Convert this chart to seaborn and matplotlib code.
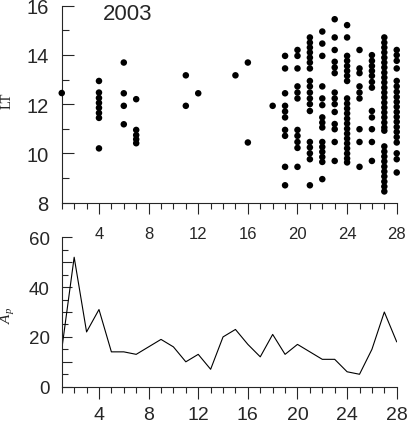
import matplotlib.pyplot as plt
import pandas as pd
import seaborn as sns
from matplotlib.ticker import FuncFormatter, MultipleLocator

# daily Ap index (days 1..28)
days = list(range(1, 29))
ap_index = [15, 52, 22, 31, 14, 14, 13, 16, 19, 16, 10, 13, 7, 20,
            23, 17, 12, 21, 13, 17, 14, 11, 11, 6, 5, 15, 30, 18]

# local time (LT, hours) of the observed events, per day
lt_day1 = [12.45]
lt_day4 = [12.94, 12.47, 12.25, 12.05, 11.85, 11.64, 11.44, 10.2]
lt_day6 = [13.69, 12.44, 11.93, 11.18]
lt_day7 = [12.2, 10.95, 10.74, 10.57, 10.41]
lt_day11 = [13.17, 11.93]
lt_day12 = [12.44]
lt_day15 = [13.17]
lt_day16 = [13.69, 10.44]
lt_day18 = [11.93]
lt_day19 = [13.96, 13.45, 12.44, 11.93, 11.70, 11.46, 10.95, 10.71, 9.45, 8.70]
lt_day20 = [14.2, 13.96, 13.45, 12.72, 12.47, 12.23, 10.95, 10.71, 10.46,
            10.22, 9.45]
lt_day21 = [14.71, 14.50, 14.30, 14.10, 13.89, 13.69, 13.45, 12.94, 12.72,
            12.47, 12.23, 12.0, 11.72, 10.46, 10.24, 10.0, 9.76, 8.70]
lt_day22 = [14.95, 14.46, 13.96, 12.72, 12.23, 11.96, 11.46, 11.25, 11.05,
            10.46, 10.26, 10.06, 9.85, 9.65, 8.95]
lt_day23 = [15.45, 14.71, 14.2, 13.72, 13.49, 13.26, 12.47, 12.23, 12.0,
            11.68, 11.19, 10.98, 10.46, 9.69]
lt_day24 = [15.21, 14.71, 13.96, 13.76, 13.55, 13.35, 13.15, 12.94, 12.23,
            12.02, 11.82, 11.62, 11.41, 11.21, 11.0, 10.80, 10.60, 10.40,
            10.20, 9.99, 9.79, 9.63]
lt_day25 = [14.2, 13.45, 13.26, 12.72, 12.47, 12.23, 10.98, 10.46, 9.45]
lt_day26 = [13.99, 13.76, 13.55, 13.35, 13.15, 12.90, 12.67, 11.72, 11.46,
            10.98, 10.46, 9.69]
lt_day27 = [14.71, 14.50, 14.30, 14.10, 13.89, 13.69, 13.49, 13.28, 13.08,
            12.88, 12.67, 12.47, 12.27, 12.06, 11.86, 11.66, 11.46, 11.25,
            11.05, 10.92, 10.28, 10.07, 9.87, 9.67, 9.46, 9.26, 9.06, 8.85,
            8.65, 8.45]
lt_day28 = [14.2, 13.99, 13.76, 13.45, 12.94, 12.72, 12.50, 12.29, 12.09,
            11.89, 11.68, 11.48, 11.28, 11.07, 10.87, 10.66, 10.44, 10.0,
            9.76, 9.22]

lt_by_day = {1: lt_day1, 4: lt_day4, 6: lt_day6, 7: lt_day7, 11: lt_day11,
             12: lt_day12, 15: lt_day15, 16: lt_day16, 18: lt_day18,
             19: lt_day19, 20: lt_day20, 21: lt_day21, 22: lt_day22,
             23: lt_day23, 24: lt_day24, 25: lt_day25, 26: lt_day26,
             27: lt_day27, 28: lt_day28}

events = pd.DataFrame(
    [(d, lt) for d, vals in lt_by_day.items() for lt in vals],
    columns=["day", "lt"],
)
ap = pd.DataFrame({"day": days, "ap": ap_index})

sns.set_style("ticks")
plt.rcParams["font.family"] = ["Liberation Sans", "DejaVu Sans"]
plt.rcParams["mathtext.fontset"] = "custom"
plt.rcParams["mathtext.it"] = "Liberation Serif:italic"
plt.rcParams["mathtext.rm"] = "Liberation Serif"
plt.rcParams["axes.linewidth"] = 0.8

fig = plt.figure(figsize=(4.09, 4.27), dpi=100)
ax1 = fig.add_axes([0.151, 0.5234, 0.819, 0.4609])
ax2 = fig.add_axes([0.151, 0.092, 0.819, 0.3499])
ax1.set_facecolor("none")
ax2.set_facecolor("none")

# top panel: LT of events
sns.scatterplot(data=events, x="day", y="lt", ax=ax1, color="black", s=22,
                edgecolor="none", clip_on=False, zorder=3)
ax1.set_xlim(1, 28)
ax1.set_ylim(8, 16)
ax1.xaxis.set_major_locator(MultipleLocator(4))
ax1.xaxis.set_minor_locator(MultipleLocator(1))
ax1.yaxis.set_major_locator(MultipleLocator(2))
ax1.yaxis.set_minor_locator(MultipleLocator(1))
ax1.tick_params(axis="x", which="major", direction="out", length=8,
                width=0.8, labelsize=12, pad=9)
ax1.tick_params(axis="x", which="minor", direction="out", length=4.3,
                width=0.8)
ax1.tick_params(axis="y", which="major", direction="in", length=8.6,
                width=0.8, labelsize=14.5, pad=9.5)
ax1.tick_params(axis="y", which="minor", direction="in", length=5,
                width=0.8)
ax1.set_xlabel("")
ax1.set_ylabel("")
ax1.text(0.196, 0.959, "2003", transform=ax1.transAxes, fontsize=16,
         ha="center", va="center")

# bottom panel: Ap index
sns.lineplot(data=ap, x="day", y="ap", ax=ax2, color="black", linewidth=0.8)
ax2.set_xlim(1, 28)
ax2.set_ylim(0, 60)
ax2.xaxis.set_major_locator(MultipleLocator(4))
ax2.xaxis.set_minor_locator(MultipleLocator(1))
ax2.yaxis.set_major_locator(MultipleLocator(10))
ax2.yaxis.set_minor_locator(MultipleLocator(5))
ax2.yaxis.set_major_formatter(
    FuncFormatter(lambda v, pos: f"{v:.0f}" if v % 20 == 0 else ""))
ax2.tick_params(axis="x", which="major", direction="out", length=8.6,
                width=0.8, labelsize=14, pad=5.5)
ax2.tick_params(axis="x", which="minor", direction="out", length=4.3,
                width=0.8)
ax2.tick_params(axis="y", which="major", direction="in", length=7.5,
                width=0.8, labelsize=13.5, pad=8.5)
ax2.tick_params(axis="y", which="minor", direction="in", length=4.5,
                width=0.8)
ax2.set_xlabel("")
ax2.set_ylabel("")

for ax in (ax1, ax2):
    sns.despine(ax=ax)

fig.text(7.5 / 409, 1 - 101 / 427, "LT", rotation=90, fontsize=10.5,
         family="Liberation Serif", ha="center", va="center")
fig.text(8 / 409, 1 - 315 / 427, "$A_p$", rotation=90, fontsize=11,
         ha="center", va="center")

fig.savefig("out.png", dpi=100, facecolor="white")
